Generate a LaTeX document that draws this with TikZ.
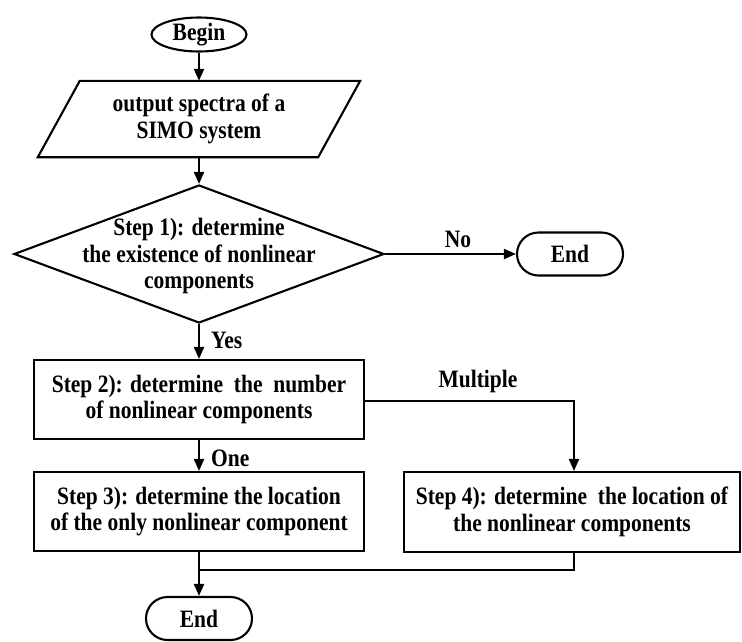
\documentclass[tikz,border=0pt]{standalone}
\usepackage{fontspec}
\setmainfont{Liberation Serif}[FakeStretch=0.86]
\usetikzlibrary{shapes.geometric,arrows.meta,calc}
\begin{document}
\begin{tikzpicture}[x=1pt,y=-1pt,
  every node/.style={font=\fontsize{25}{26.5}\selectfont\bfseries},
  line/.style={line width=2.1pt},
  arr/.style={line width=2.1pt,-{Triangle[length=12pt,width=10pt]}},
  boxnode/.style={draw,line width=2.1pt,minimum height=79pt,align=center,inner sep=0pt},
  termnode/.style={draw,line width=2.1pt,rectangle,rounded corners=21.5pt,minimum width=106pt,minimum height=43pt,inner sep=0pt},
  lbl/.style={inner sep=0pt}]
\useasboundingbox (0,0) rectangle (742,641);
% Begin
\node[draw,line width=2.1pt,ellipse,minimum width=95pt,minimum height=34pt,inner sep=0pt] (begin) at (199,34.5) {Begin};
% parallelogram
\node[minimum width=280pt,minimum height=76pt,inner sep=0pt,align=center] (para) at (199,119) {output spectra of a\\SIMO system};
\draw[line] ($(para.north west)+(21,0)$) -- ($(para.north east)+(21,0)$) -- ($(para.south east)+(-21,0)$) -- ($(para.south west)+(-21,0)$) -- cycle;
% diamond
\node[draw,line width=2.1pt,diamond,minimum width=370pt,minimum height=138pt,inner sep=0pt] (dia) at (199,254) {};
\node[align=center,inner sep=0pt] (diat) at (199,256) {Step 1): determine\\the existence of nonlinear\\components};
% End 1
\node[termnode] (end1) at (570,254) {End};
% Step 2
\node[boxnode,minimum width=330pt] (s2) at (199,399.5) {Step 2): determine\ \ the\ \ number\\of nonlinear components};
% Step 3
\node[boxnode,minimum width=330pt] (s3) at (199,511.5) {Step 3): determine the location\\of the only nonlinear component};
% Step 4
\node[boxnode,minimum width=336pt,minimum height=80pt] (s4) at (572,512) {Step 4): determine\ \ the location of\\the nonlinear components};
% End 2
\node[termnode] (end2) at (199,618.5) {End};
% connectors
\draw[arr] (begin.south) -- (para.north);
\draw[arr] (para.south) -- (dia.north);
\draw[arr] (dia.east) -- (end1.west);
\node[lbl] (no) at (458,239) {No};
\draw[arr] (dia.south) -- (s2.north);
\node[lbl,anchor=west] (yes) at (211,340) {Yes};
\draw[arr] (s2.south) -- (s3.north);
\node[lbl,anchor=west] (one) at (211,458) {One};
\coordinate (mc) at (574,401);
\draw[arr] (s2.east |- mc) -- (mc) -- (s4.north -| mc);
\node[lbl] (mul) at (478,381) {Multiple};
\coordinate (jn) at (199,570);
\draw[line] (s4.south -| mc) -- (mc |- jn) -- (jn);
\draw[arr] (s3.south) -- (end2.north);
\end{tikzpicture}
\end{document}
